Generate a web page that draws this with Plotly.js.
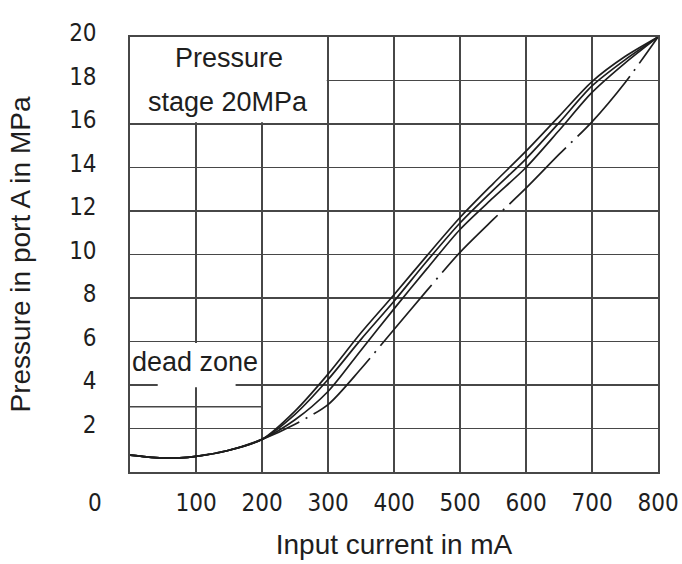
<!DOCTYPE html>
<html>
<head>
<meta charset="utf-8">
<script src="https://cdn.plot.ly/plotly-3.0.1.min.js"></script>
<style>html,body{margin:0;padding:0;background:#fff;}#chart{width:682px;height:564px;}</style>
</head>
<body>
<div id="chart"></div>
<script>
// Input current in mA
const current = [0, 25, 50, 75, 100, 150, 200, 250, 300, 350, 400, 450, 500, 550, 600, 650, 700, 750, 800];
// Pressure in port A in MPa (three solid curves + one dash-dot curve)
const curveA = [0.78, 0.7, 0.65, 0.65, 0.72, 1.0, 1.5, 2.8, 4.5, 6.4, 8.15, 9.95, 11.7, 13.25, 14.75, 16.35, 17.95, 19.1, 20];
const curveB = [0.78, 0.7, 0.65, 0.65, 0.72, 1.0, 1.5, 2.65, 4.25, 6.1, 7.85, 9.7, 11.45, 12.95, 14.4, 16.05, 17.75, 18.95, 20];
const curveC = [0.78, 0.7, 0.65, 0.65, 0.72, 1.0, 1.5, 2.4, 3.7, 5.6, 7.5, 9.35, 11.15, 12.6, 14.0, 15.7, 17.45, 18.8, 20];
const curveD = [0.78, 0.7, 0.65, 0.65, 0.72, 1.0, 1.5, 2.2, 3.1, 4.75, 6.55, 8.35, 10.1, 11.6, 13.05, 14.6, 16.1, 17.9, 20];

const xTicks = [100, 200, 300, 400, 500, 600, 700, 800];
const yTicks = [2, 4, 6, 8, 10, 12, 14, 16, 18, 20];
const originLabel = "0";
const boxText1 = "Pressure";
const boxText2 = "stage 20MPa";
const deadZoneText = "dead zone";

const ink = '#1e1e1e';
const gridCol = '#474747';
const narrow = '"Liberation Sans Narrow", "Arial Narrow", "DejaVu Sans Condensed", sans-serif';
const sans = '"Liberation Sans", Arial, sans-serif';

function solid(y) {
  return {x: current, y: y, type: 'scatter', mode: 'lines',
    line: {color: ink, width: 1.7, shape: 'spline', smoothing: 0.8},
    showlegend: false, hoverinfo: 'skip'};
}
const traces = [solid(curveA), solid(curveB), solid(curveC),
  {x: current, y: curveD, type: 'scatter', mode: 'lines',
    line: {color: ink, width: 1.7, shape: 'spline', smoothing: 0.8, dash: '80px,7px,2px,7px'},
    showlegend: false, hoverinfo: 'skip'}];

const white = {color: '#fff', width: 0};
const layout = {
  width: 682, height: 564,
  margin: {l: 130, r: 24, t: 37, b: 92},
  paper_bgcolor: '#fff', plot_bgcolor: '#fff',
  xaxis: {
    range: [0, 800], tickvals: xTicks, ticktext: xTicks.map(String),
    showgrid: true, gridcolor: gridCol, gridwidth: 1.4, zeroline: false,
    showline: true, linecolor: gridCol, linewidth: 1.6, mirror: true,
    ticks: 'outside', ticklen: 9, tickcolor: 'rgba(0,0,0,0)',
    tickfont: {family: narrow, size: 24, color: ink},
    title: {text: 'Input current in mA', font: {family: sans, size: 28, color: ink}, standoff: 18},
    fixedrange: true
  },
  yaxis: {
    range: [0, 20], tickvals: yTicks, ticktext: yTicks.map(String),
    showgrid: true, gridcolor: gridCol, gridwidth: 1.4, zeroline: false,
    showline: true, linecolor: gridCol, linewidth: 1.6, mirror: true,
    ticks: 'outside', ticklen: 27, tickcolor: 'rgba(0,0,0,0)',
    ticklabelshift: -4,
    tickfont: {family: narrow, size: 24, color: ink},
    title: {text: 'Pressure in port A in MPa', font: {family: sans, size: 28, color: ink}, standoff: 30},
    fixedrange: true
  },
  shapes: [
    // blank box for the pressure stage label
    {type: 'rect', xref: 'x', yref: 'y', x0: 0, x1: 298, y0: 16.08, y1: 20, layer: 'between', fillcolor: '#fff', line: white},
    // blank box for dead zone label
    {type: 'rect', xref: 'x', yref: 'y', x0: 0, x1: 198, y0: 4.05, y1: 5.93, layer: 'between', fillcolor: '#fff', line: white},
    {type: 'rect', xref: 'x', yref: 'y', x0: 42, x1: 160, y0: 3.9, y1: 4.1, layer: 'between', fillcolor: '#fff', line: white},
    // extra half grid line at 3 MPa in the dead zone
    {type: 'line', xref: 'x', yref: 'y', x0: 0, x1: 200, y0: 3, y1: 3, layer: 'between', line: {color: gridCol, width: 1.4}}
  ],
  annotations: [
    {text: originLabel, xref: 'paper', yref: 'paper', x: -0.066, y: -0.072, xanchor: 'center', yanchor: 'middle', showarrow: false, font: {family: narrow, size: 24, color: ink}},
    {text: boxText1, xref: 'x', yref: 'y', x: 150, y: 19.05, xanchor: 'center', yanchor: 'middle', showarrow: false, font: {family: sans, size: 27, color: ink}},
    {text: boxText2, xref: 'x', yref: 'y', x: 148, y: 17.0, xanchor: 'center', yanchor: 'middle', showarrow: false, font: {family: sans, size: 27, color: ink}},
    {text: deadZoneText, xref: 'x', yref: 'y', x: 99, y: 5.05, xanchor: 'center', yanchor: 'middle', showarrow: false, font: {family: sans, size: 27, color: ink}}
  ]
};
Plotly.newPlot('chart', traces, layout, {displayModeBar: false, staticPlot: true});
</script>
</body>
</html>
